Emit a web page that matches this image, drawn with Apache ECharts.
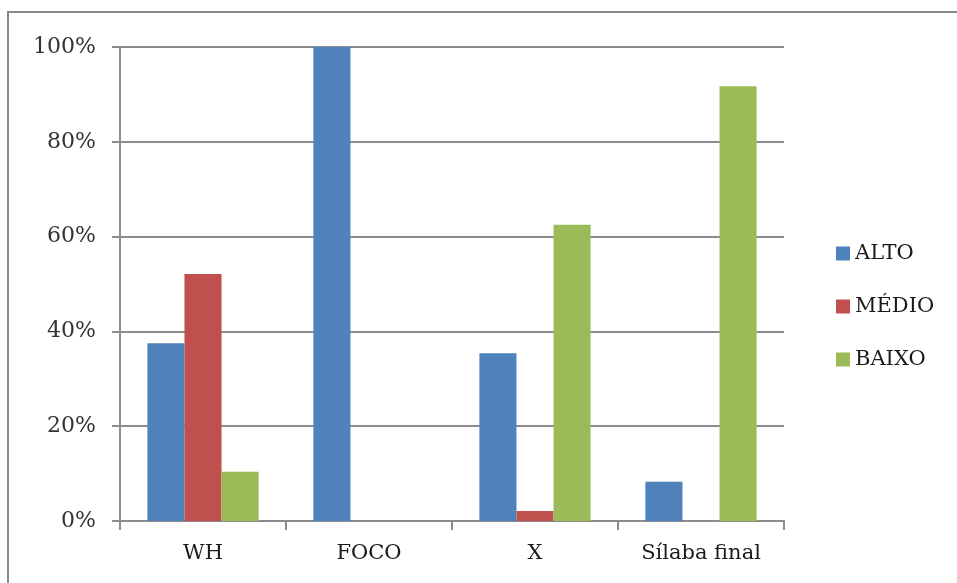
<!DOCTYPE html>
<html>
<head>
<meta charset="utf-8">
<script src="https://cdn.jsdelivr.net/npm/echarts@6/dist/echarts.min.js"></script>
<style>
html,body{margin:0;padding:0;background:#fff;overflow:hidden;}
#wrap{position:relative;width:957px;height:583px;overflow:hidden;}
#c{position:absolute;left:0;top:0;width:957px;height:583px;}
#frame{position:absolute;left:7px;top:11px;width:1200px;height:1200px;border-left:2px solid #8a8a8a;border-top:2px solid #8a8a8a;pointer-events:none;}
</style>
</head>
<body>
<div id="wrap">
<div id="c"></div>
<div id="frame"></div>
</div>
<script>
const categories = ['WH', 'FOCO', 'X', 'Sílaba final'];
const seriesNames = ['ALTO', 'MÉDIO', 'BAIXO'];
const alto = [37.5, 100, 35.4, 8.3];
const medio = [52.1, 0, 2.1, 0];
const baixo = [10.4, 0, 62.5, 91.7];
const yTicks = [0, 20, 40, 60, 80, 100];
const colors = ['#4F81BD', '#C0504D', '#9BBB59'];

const FONT = 'DejaVu Serif';
const chart = echarts.init(document.getElementById('c'), null, {renderer: 'canvas'});
const values = [alto, medio, baixo];
chart.setOption({
  animation: false,
  color: colors,
  grid: {left: 120, top: 47, width: 664, height: 474, containLabel: false},
  legend: {
    orient: 'vertical',
    left: 831,
    top: 238,
    itemWidth: 14,
    itemHeight: 14,
    itemGap: 32,
    icon: 'rect',
    textStyle: {fontFamily: FONT, fontSize: 21, color: '#1a1a1a', padding: [0, 0, 0, 0]},
    data: seriesNames
  },
  xAxis: {
    type: 'category',
    data: categories,
    axisLine: {lineStyle: {color: '#8c8c8c', width: 2}},
    axisTick: {show: true, length: 9, lineStyle: {color: '#8c8c8c', width: 2}},
    axisLabel: {fontFamily: FONT, fontSize: 21, color: '#1a1a1a', margin: 22}
  },
  yAxis: {
    type: 'value',
    min: yTicks[0],
    max: yTicks[yTicks.length - 1],
    interval: 20,
    axisLine: {show: true, lineStyle: {color: '#8c8c8c', width: 2}},
    axisTick: {show: true, length: 8, lineStyle: {color: '#8c8c8c', width: 2}},
    splitLine: {lineStyle: {color: '#8c8c8c', width: 2}},
    axisLabel: {fontFamily: FONT, fontSize: 22, color: '#333', margin: 24, formatter: v => v + '%'}
  },
  series: seriesNames.map((n, i) => ({
    name: n,
    type: 'bar',
    data: values[i],
    barGap: '0%',
    barCategoryGap: '33%',
    itemStyle: {color: colors[i]}
  }))
});
</script>
</body>
</html>
